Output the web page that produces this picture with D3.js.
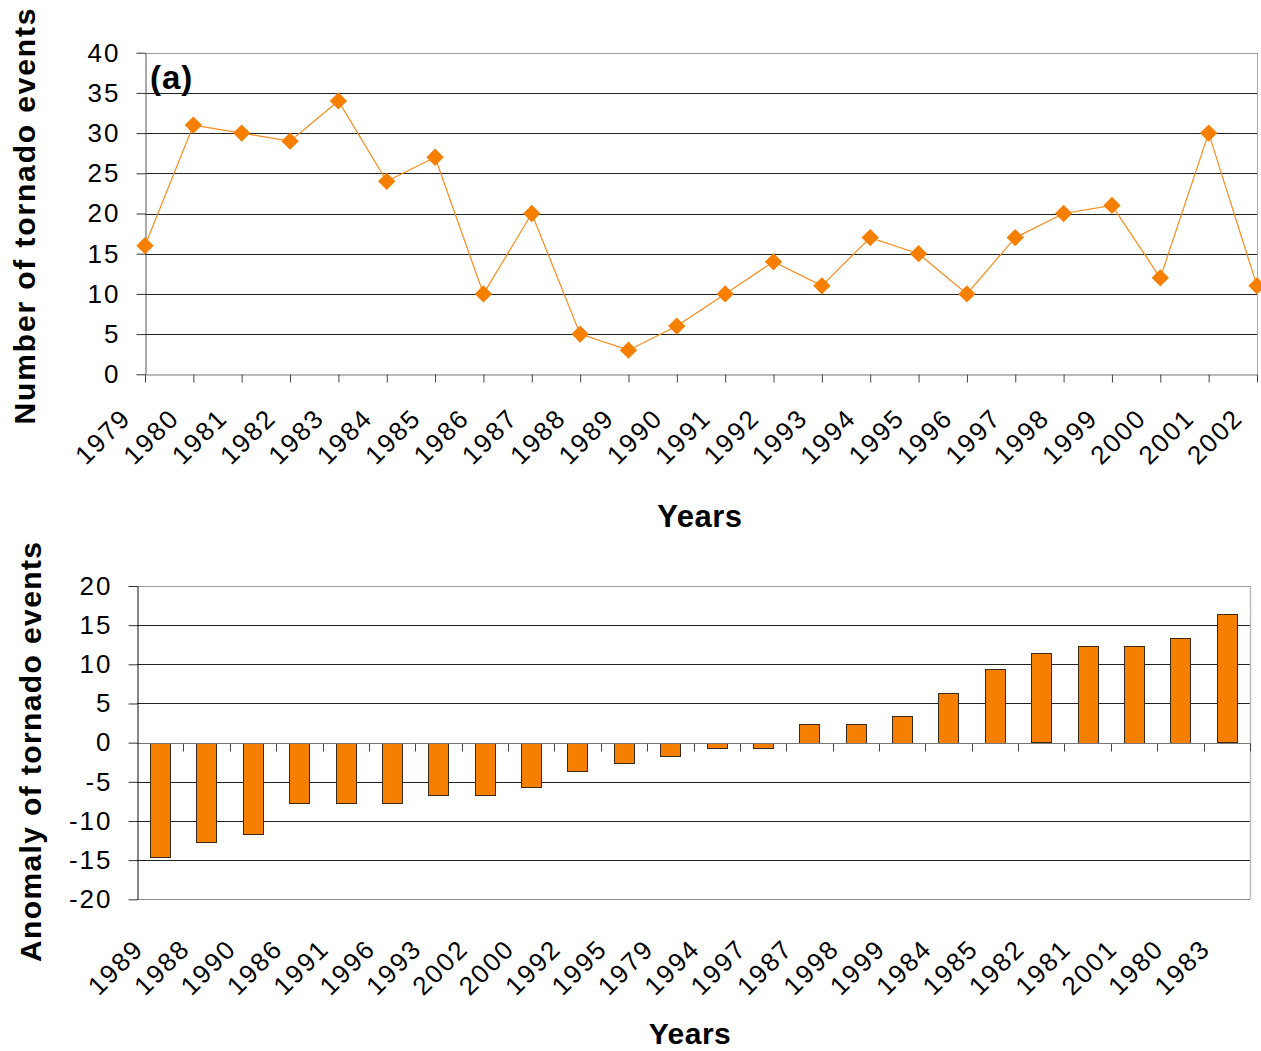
<!DOCTYPE html>
<html>
<head>
<meta charset="utf-8">
<script src="https://cdn.jsdelivr.net/npm/d3@7"></script>
<style>
  html, body { margin: 0; padding: 0; background: #fff; }
  svg { display: block; font-family: "Liberation Sans", Arial, sans-serif; }
</style>
</head>
<body>
<svg id="chart" width="1261" height="1051"></svg>
<script>
// ---- Data ----
const years = ['1979','1980','1981','1982','1983','1984','1985','1986','1987','1988','1989','1990',
               '1991','1992','1993','1994','1995','1996','1997','1998','1999','2000','2001','2002'];
const tornadoCounts = [16,31,30,29,34,24,27,10,20,5,3,6,10,14,11,17,15,10,17,20,21,12,30,11];

const anomalyYears = ['1989','1988','1990','1986','1991','1996','1993','2002','2000','1992','1995','1979',
                      '1994','1997','1987','1998','1999','1984','1985','1982','1981','2001','1980','1983'];
const anomalies = [-14.6,-12.6,-11.6,-7.6,-7.6,-7.6,-6.6,-6.6,-5.6,-3.6,-2.6,-1.6,
                   -0.6,-0.6,2.4,2.4,3.4,6.4,9.4,11.4,12.4,12.4,13.4,16.4];

const topTicks = [0,5,10,15,20,25,30,35,40];
const botTicks = [-20,-15,-10,-5,0,5,10,15,20];

const orange = '#F77F00';
const FONT = '"Liberation Sans", Arial, sans-serif';
const svg = d3.select('#chart');
const fmt = d => String(d);

// ================= TOP CHART =================
const T = {left: 145, right: 1257, top: 52.7, bottom: 374.3};
const xTop = d3.scalePoint().domain(years).range([T.left, T.right]);
const yTop = d3.scaleLinear().domain([0, 40]).range([T.bottom, T.top]);
const gTop = svg.append('g');

// gridlines
gTop.selectAll('line.grid').data(topTicks.filter(d => d > 0 && d < 40)).join('line')
  .attr('x1', T.left).attr('x2', T.right)
  .attr('y1', d => Math.round(yTop(d)) + 0.5).attr('y2', d => Math.round(yTop(d)) + 0.5)
  .attr('stroke', '#222').attr('stroke-width', 1);
// top & right border
gTop.append('line').attr('x1', T.left).attr('x2', T.right)
  .attr('y1', Math.round(yTop(40)) + 0.5).attr('y2', Math.round(yTop(40)) + 0.5)
  .attr('stroke', '#999');
gTop.append('line').attr('x1', T.right + 0.5).attr('x2', T.right + 0.5)
  .attr('y1', yTop(40)).attr('y2', yTop(0)).attr('stroke', '#aaa');

// y axis
const yAxisTop = gTop.append('g').attr('transform', `translate(${T.left + 0.5},0)`)
  .call(d3.axisLeft(yTop).tickValues(topTicks).tickFormat(fmt).tickSize(9).tickSizeOuter(0).tickPadding(16));
yAxisTop.select('.domain').attr('stroke', '#555');
yAxisTop.selectAll('.tick line').attr('stroke', '#333');
yAxisTop.selectAll('.tick text').attr('font-size', 26).attr('letter-spacing', 2)
  .attr('fill', '#000').attr('font-family', FONT);

// x axis
const xAxisTop = gTop.append('g').attr('transform', `translate(0,${Math.round(T.bottom) + 0.5})`)
  .call(d3.axisBottom(xTop).tickSize(8).tickSizeOuter(0));
xAxisTop.select('.domain').attr('stroke', '#777');
xAxisTop.selectAll('.tick line').attr('stroke', '#444');
xAxisTop.selectAll('.tick text')
  .attr('font-size', 26).attr('letter-spacing', 2).attr('fill', '#000')
  .attr('font-family', FONT)
  .attr('text-anchor', 'end').attr('dy', null).attr('y', null)
  .attr('transform', 'translate(-13,45) rotate(-45)');

// line
gTop.append('path')
  .datum(tornadoCounts)
  .attr('fill', 'none').attr('stroke', '#FA8A1A').attr('stroke-width', 1.2)
  .attr('d', d3.line().x((d, i) => xTop(years[i])).y(d => yTop(d)));
// markers
const diamond = d3.symbol().type(d3.symbolSquare).size(150);
gTop.selectAll('path.mk').data(tornadoCounts).join('path')
  .attr('class', 'mk')
  .attr('d', diamond)
  .attr('fill', orange)
  .attr('transform', (d, i) => `translate(${xTop(years[i])},${yTop(d)}) rotate(45)`);

// (a) label
gTop.append('text').attr('x', 150).attr('y', 89).attr('font-size', 33).attr('font-weight', 'bold')
  .attr('letter-spacing', 1).text('(a)');

// titles
svg.append('text').attr('transform', 'translate(35,216.5) rotate(-90)')
  .attr('text-anchor', 'middle').attr('font-size', 30).attr('font-weight', 'bold')
  .attr('textLength', 416).attr('lengthAdjust', 'spacing')
  .text('Number of tornado events');
svg.append('text').attr('x', 700).attr('y', 527).attr('text-anchor', 'middle')
  .attr('font-size', 31).attr('font-weight', 'bold').attr('letter-spacing', 0.5).text('Years');

// ================= BOTTOM CHART =================
const B = {left: 137, right: 1250, top: 586, bottom: 899.3};
const xBot = d3.scaleBand().domain(anomalyYears).range([B.left, B.right])
  .paddingInner(0.565).paddingOuter(0.2825);
const yBot = d3.scaleLinear().domain([-20, 20]).range([B.bottom, B.top]);
const gBot = svg.append('g');

// gridlines
gBot.selectAll('line.grid').data(botTicks.filter(d => d !== 0 && d !== 20 && d !== -20)).join('line')
  .attr('x1', B.left).attr('x2', B.right)
  .attr('y1', d => Math.round(yBot(d)) + 0.5).attr('y2', d => Math.round(yBot(d)) + 0.5)
  .attr('stroke', '#222');
// border (top, bottom, right)
gBot.append('line').attr('x1', B.left).attr('x2', B.right)
  .attr('y1', Math.round(yBot(20)) + 0.5).attr('y2', Math.round(yBot(20)) + 0.5).attr('stroke', '#999');
gBot.append('line').attr('x1', B.left).attr('x2', B.right)
  .attr('y1', Math.round(yBot(-20)) + 0.5).attr('y2', Math.round(yBot(-20)) + 0.5).attr('stroke', '#888');
gBot.append('line').attr('x1', B.right + 0.5).attr('x2', B.right + 0.5)
  .attr('y1', yBot(20)).attr('y2', yBot(-20)).attr('stroke', '#bbb').attr('stroke-width', 1.5);

// bars
gBot.selectAll('rect.bar').data(anomalies).join('rect')
  .attr('class', 'bar')
  .attr('x', (d, i) => Math.round(xBot(anomalyYears[i])) + 0.5)
  .attr('width', Math.round(xBot.bandwidth()))
  .attr('y', d => Math.round(yBot(Math.max(0, d))) + 0.5)
  .attr('height', d => Math.round(Math.abs(yBot(d) - yBot(0))))
  .attr('fill', orange).attr('stroke', '#3a2a1a').attr('stroke-width', 1);

// zero (category) axis line with ticks at band boundaries
const y0 = Math.round(yBot(0)) + 0.5;
gBot.append('line').attr('x1', B.left).attr('x2', B.right).attr('y1', y0).attr('y2', y0)
  .attr('stroke', '#777');
const boundaries = anomalyYears.map((d, i) => xBot(d) - xBot.step() * xBot.paddingInner() / 2);
boundaries.push(B.right);
gBot.selectAll('line.ctick').data(boundaries.slice(1)).join('line')
  .attr('x1', d => Math.round(d) + 0.5).attr('x2', d => Math.round(d) + 0.5)
  .attr('y1', y0).attr('y2', y0 + 8).attr('stroke', '#444');

// y axis
const yAxisBot = gBot.append('g').attr('transform', `translate(${B.left + 0.5},0)`)
  .call(d3.axisLeft(yBot).tickValues(botTicks).tickFormat(fmt).tickSize(9).tickSizeOuter(0).tickPadding(16));
yAxisBot.select('.domain').attr('stroke', '#111');
yAxisBot.selectAll('.tick line').attr('stroke', '#333');
yAxisBot.selectAll('.tick text').attr('font-size', 26).attr('letter-spacing', 2)
  .attr('fill', '#000').attr('font-family', FONT);

// category labels under the plot
const xAxisBot = gBot.append('g').attr('transform', `translate(0,${B.bottom})`)
  .call(d3.axisBottom(xBot).tickSize(0).tickSizeOuter(0));
xAxisBot.select('.domain').remove();
xAxisBot.selectAll('.tick text')
  .attr('font-size', 26).attr('letter-spacing', 2).attr('fill', '#000')
  .attr('font-family', FONT)
  .attr('text-anchor', 'end').attr('dy', null).attr('y', null)
  .attr('transform', 'translate(-15,51) rotate(-45)');

// titles
svg.append('text').attr('transform', 'translate(41,752) rotate(-90)')
  .attr('text-anchor', 'middle').attr('font-size', 30).attr('font-weight', 'bold')
  .attr('textLength', 420).attr('lengthAdjust', 'spacing')
  .text('Anomaly of tornado events');
svg.append('text').attr('x', 690).attr('y', 1044).attr('text-anchor', 'middle')
  .attr('font-size', 30).attr('font-weight', 'bold').attr('letter-spacing', 0.5).text('Years');
</script>
</body>
</html>
